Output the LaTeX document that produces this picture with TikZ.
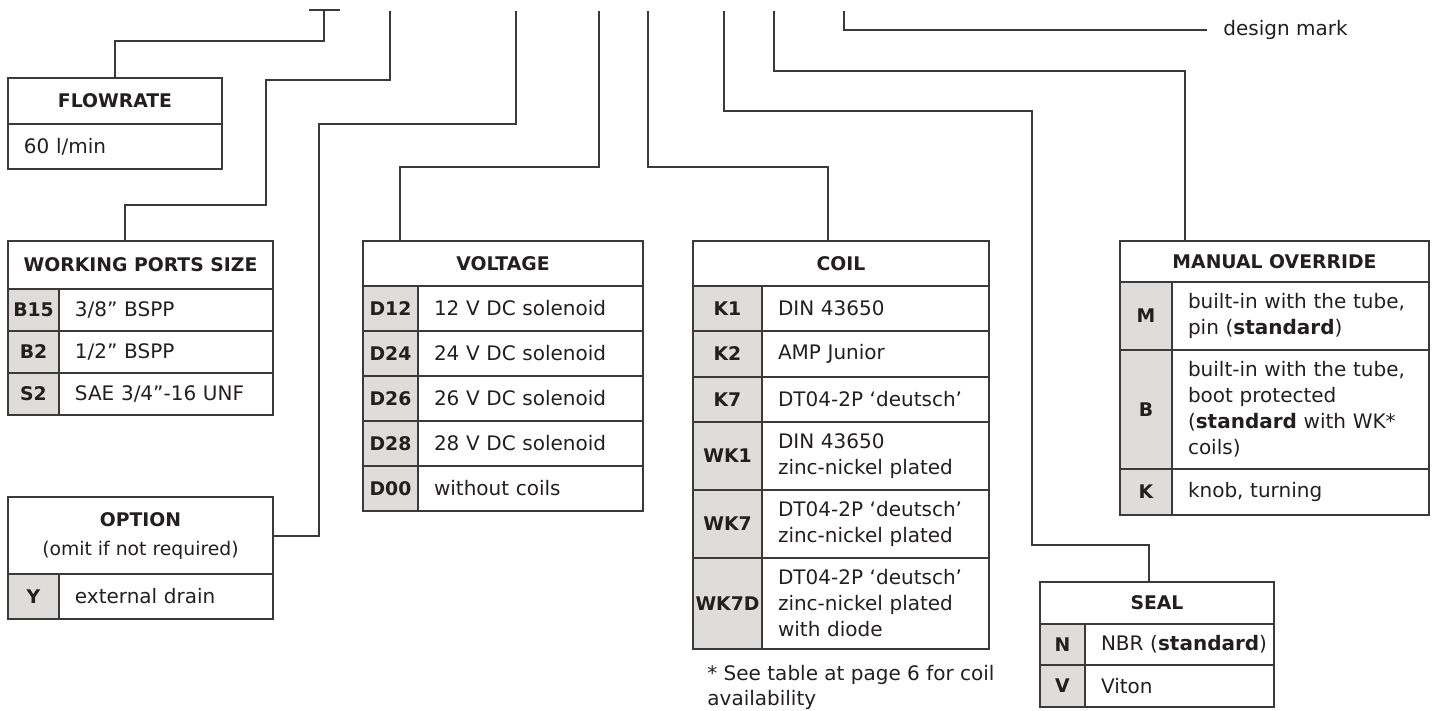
\documentclass[tikz,border=0pt]{standalone}
\usepackage{fontspec}
\setmainfont{DejaVu Sans}
\usetikzlibrary{positioning}
\definecolor{linec}{HTML}{3A3A3A}
\definecolor{codefill}{HTML}{DFDDDB}
\definecolor{textc}{HTML}{231F20}

\begin{document}
\begin{tikzpicture}[x=0.5pt,y=-0.5pt,
every node/.style={inner sep=0pt,text=textc,font=\fontsize{10}{13}\selectfont},
cell/.style={draw=linec,line width=.6pt,outer sep=0pt,anchor=north west},
head/.style={cell,align=center,font=\fontsize{9.4}{13}\selectfont\bfseries},
code/.style={cell,fill=codefill,font=\fontsize{9.4}{13}\selectfont\bfseries},
desc/.style={cell,align=left,inner xsep=8pt},
lead/.style={draw=linec,line width=.6pt}]
\useasboundingbox (0,0) rectangle (1437,711);

% flowrate
\node[head,minimum width=107pt,minimum height=23pt] (flow) at (8,78) {FLOWRATE};
\node[desc,text width=91pt,minimum height=22.5pt] (flowt) at (flow.south west) {60 l/min};

% working ports size
\node[head,minimum width=132.5pt,minimum height=24pt] (wps) at (8,241) {WORKING PORTS SIZE};
\node[code,minimum width=25.5pt,minimum height=21pt] (b15) at (wps.south west) {B15};
\node[desc,text width=91pt,minimum height=21pt] (b15t) at (b15.north east) {3/8” BSPP};
\node[code,minimum width=25.5pt,minimum height=21pt] (b2) at (b15.south west) {B2};
\node[desc,text width=91pt,minimum height=21pt] (b2t) at (b2.north east) {1/2” BSPP};
\node[code,minimum width=25.5pt,minimum height=21pt] (s2) at (b2.south west) {S2};
\node[desc,text width=91pt,minimum height=21pt] (s2t) at (s2.north east) {SAE 3/4”-16 UNF};

% option
\node[head,minimum width=132.5pt,minimum height=38.5pt] (opt) at (8,497)
  {OPTION\\[1.5pt]\mdseries (omit if not required)};
\node[code,minimum width=25.5pt,minimum height=22.5pt] (y) at (opt.south west) {Y};
\node[desc,text width=91pt,minimum height=22.5pt] (yt) at (y.north east) {external drain};

% voltage
\node[head,minimum width=140pt,minimum height=22.5pt] (volt) at (363,241) {VOLTAGE};
\node[code,minimum width=27.5pt,minimum height=22.5pt] (d12) at (volt.south west) {D12};
\node[desc,text width=96.5pt,minimum height=22.5pt] (d12t) at (d12.north east) {12 V DC solenoid};
\node[code,minimum width=27.5pt,minimum height=22.5pt] (d24) at (d12.south west) {D24};
\node[desc,text width=96.5pt,minimum height=22.5pt] (d24t) at (d24.north east) {24 V DC solenoid};
\node[code,minimum width=27.5pt,minimum height=22.5pt] (d26) at (d24.south west) {D26};
\node[desc,text width=96.5pt,minimum height=22.5pt] (d26t) at (d26.north east) {26 V DC solenoid};
\node[code,minimum width=27.5pt,minimum height=22.5pt] (d28) at (d26.south west) {D28};
\node[desc,text width=96.5pt,minimum height=22.5pt] (d28t) at (d28.north east) {28 V DC solenoid};
\node[code,minimum width=27.5pt,minimum height=22.5pt] (d00) at (d28.south west) {D00};
\node[desc,text width=96.5pt,minimum height=22.5pt] (d00t) at (d00.north east) {without coils};

% coil
\node[head,minimum width=148pt,minimum height=22.5pt] (coil) at (693,241) {COIL};
\node[code,minimum width=34.5pt,minimum height=22.5pt] (k1) at (coil.south west) {K1};
\node[desc,text width=97.5pt,minimum height=22.5pt] (k1t) at (k1.north east) {DIN 43650};
\node[code,minimum width=34.5pt,minimum height=23pt] (k2) at (k1.south west) {K2};
\node[desc,text width=97.5pt,minimum height=23pt] (k2t) at (k2.north east) {AMP Junior};
\node[code,minimum width=34.5pt,minimum height=22.5pt] (k7) at (k2.south west) {K7};
\node[desc,text width=97.5pt,minimum height=22.5pt] (k7t) at (k7.north east) {DT04-2P ‘deutsch’};
\node[code,minimum width=34.5pt,minimum height=34pt] (wk1) at (k7.south west) {WK1};
\node[desc,text width=97.5pt,minimum height=34pt] (wk1t) at (wk1.north east)
  {DIN 43650\\zinc-nickel plated};
\node[code,minimum width=34.5pt,minimum height=34pt] (wk7) at (wk1.south west) {WK7};
\node[desc,text width=97.5pt,minimum height=34pt] (wk7t) at (wk7.north east)
  {DT04-2P ‘deutsch’\\zinc-nickel plated};
\node[code,minimum width=34.5pt,minimum height=45.5pt] (wk7d) at (wk7.south west) {WK7D};
\node[desc,text width=97.5pt,minimum height=45.5pt] (wk7dt) at (wk7d.north east)
  {DT04-2P ‘deutsch’\\zinc-nickel plated\\with diode};
\node[anchor=north west,align=left,font=\fontsize{10}{12.5}\selectfont] (note) at (707,665)
  {* See table at page 6 for coil\\availability};

% manual override
\node[head,minimum width=154.5pt,minimum height=20.5pt] (man) at (1120,241) {MANUAL OVERRIDE};
\node[code,minimum width=26pt,minimum height=34pt] (om) at (man.south west) {M};
\node[desc,text width=112.5pt,minimum height=34pt] (omt) at (om.north east)
  {built-in with the tube,\\pin (\textbf{standard})};
\node[code,minimum width=26pt,minimum height=59.5pt] (ob) at (om.south west) {B};
\node[desc,text width=112.5pt,minimum height=59.5pt] (obt) at (ob.north east)
  {built-in with the tube,\\boot protected\\(\textbf{standard} with WK*\\coils)};
\node[code,minimum width=26pt,minimum height=23pt] (ok) at (ob.south west) {K};
\node[desc,text width=112.5pt,minimum height=23pt] (okt) at (ok.north east) {knob, turning};

% seal
\node[head,minimum width=117pt,minimum height=21pt] (seal) at (1040,582) {SEAL};
\node[code,minimum width=22.5pt,minimum height=20.5pt] (sn) at (seal.south west) {N};
\node[desc,text width=78.5pt,minimum height=20.5pt] (snt) at (sn.north east)
  {\mbox{NBR (\textbf{standard})}};
\node[code,minimum width=22.5pt,minimum height=21pt] (sv) at (sn.south west) {V};
\node[desc,text width=78.5pt,minimum height=21pt] (svt) at (sv.north east) {Viton};

\node[anchor=west] (mark) at (1223,30) {design mark};

% leader lines
\coordinate (pflow) at (324,10);
\coordinate (pports) at (390,11);
\coordinate (popt) at (516,11);
\coordinate (pvolt) at (599,11);
\coordinate (pcoil) at (648,11);
\coordinate (pseal) at (724,11);
\coordinate (pman) at (774,11);
\coordinate (pmark) at (844,11);

\draw[lead] ([xshift=-7.5pt]pflow) -- ([xshift=8pt]pflow);
\draw[lead] (pflow) -- ++(0,31) -| (flow.north);
\draw[lead] (pports) |- (266,80) |- (125,205) -- ([xshift=58.5pt]wps.north west);
\draw[lead] (popt) |- (319,124) |- ([yshift=-19.5pt]opt.north east);
\draw[lead] (pvolt) -- ++(0,156) -| ([xshift=18.5pt]volt.north west);
\draw[lead] (pcoil) -- ++(0,156) -| ([xshift=67.5pt]coil.north west);
\draw[lead] (pseal) -- ++(0,100) -| (1032,545) -| ([xshift=54.5pt]seal.north west);
\draw[lead] (pman) -- ++(0,60) -| ([xshift=32.5pt]man.north west);
\draw[lead] (pmark) |- ([xshift=-8pt]mark.west);
\end{tikzpicture}
\end{document}
